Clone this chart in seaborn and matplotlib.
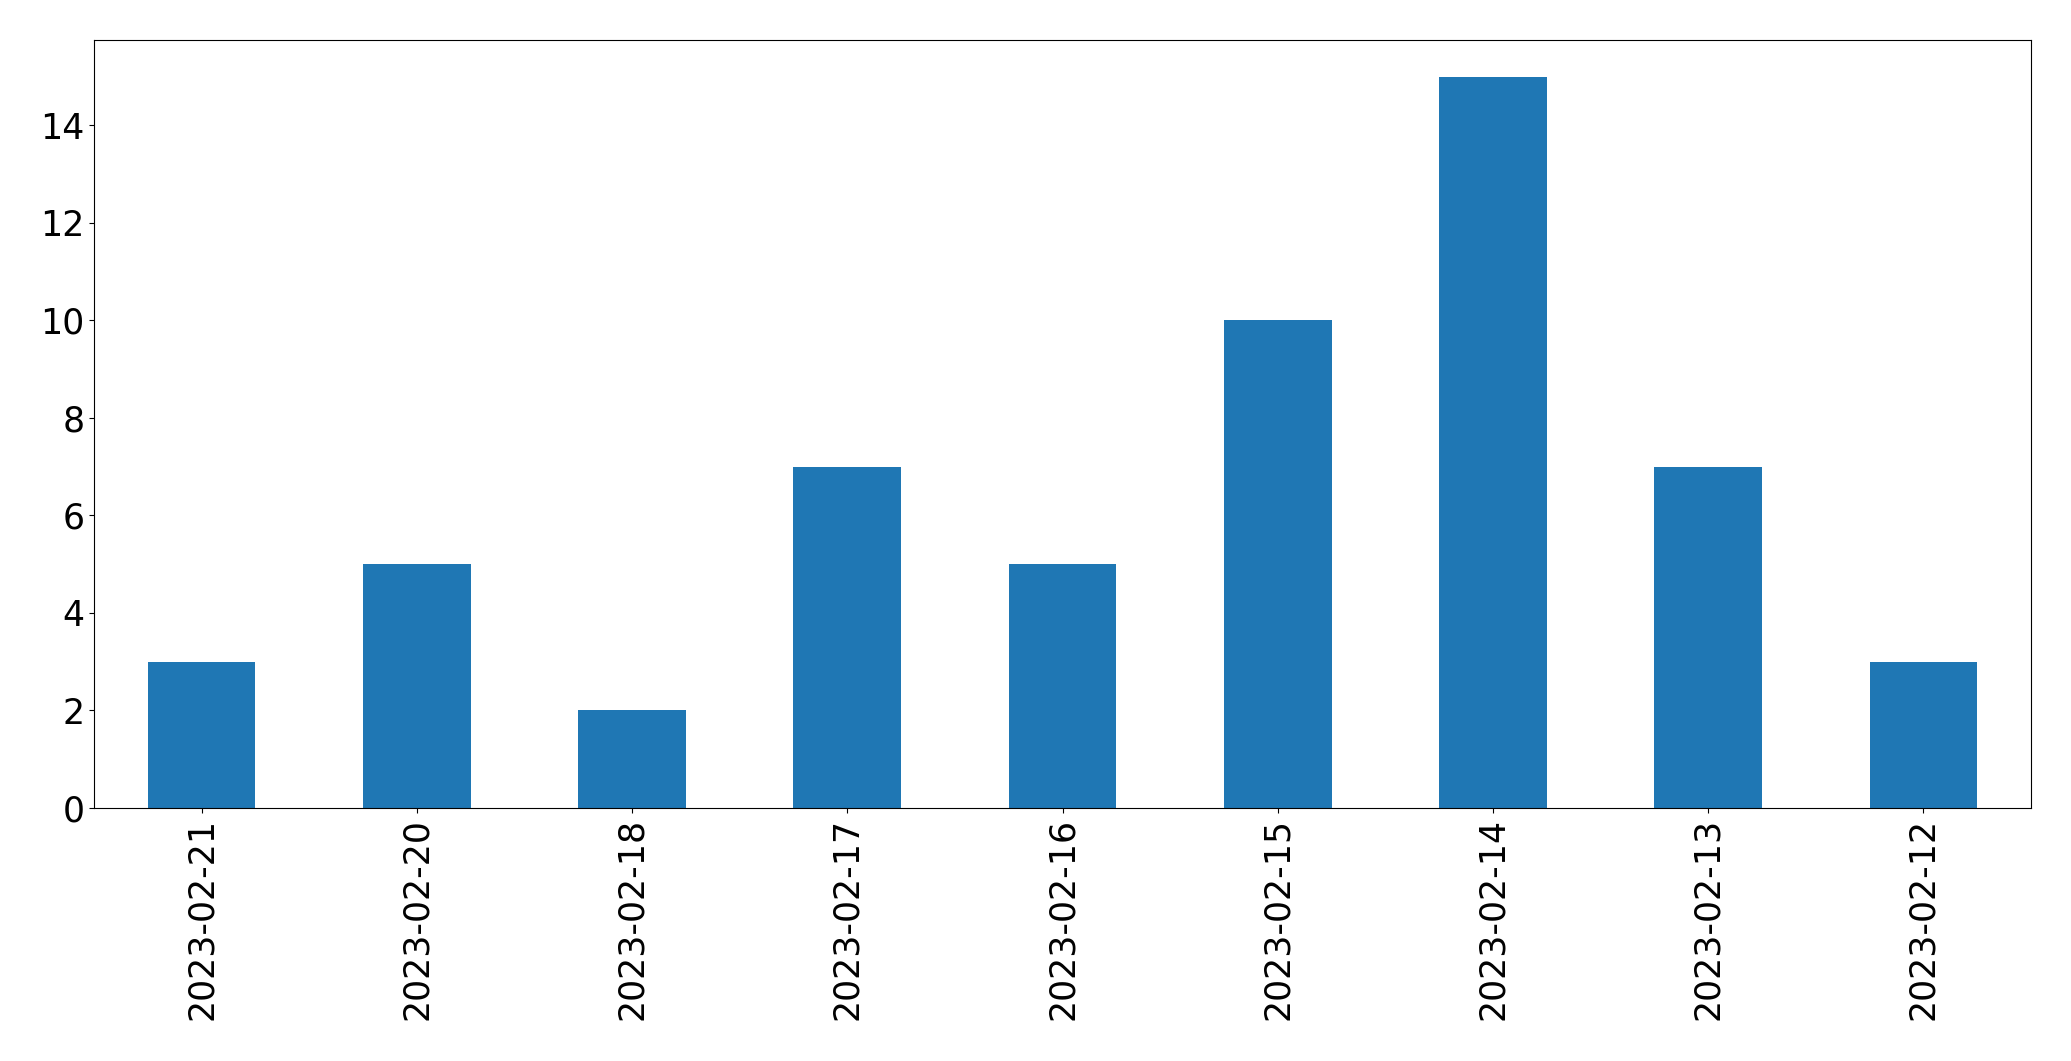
import matplotlib
matplotlib.use("Agg")
import matplotlib.pyplot as plt
import seaborn as sns
import pandas as pd

# dates and counts
dates = ["2023-02-21", "2023-02-20", "2023-02-18", "2023-02-17", "2023-02-16",
         "2023-02-15", "2023-02-14", "2023-02-13", "2023-02-12"]
counts = [3, 5, 2, 7, 5, 10, 15, 7, 3]

df = pd.DataFrame({"date": dates, "count": counts})

fig, ax = plt.subplots(figsize=(20.71, 10.61), dpi=100)
sns.barplot(data=df, x="date", y="count", color="#1f77b4", saturation=1,
            width=0.5, ax=ax)

ax.set_xlim(-0.5, len(dates) - 0.5)
ax.set_xlabel("")
ax.set_ylabel("")
ax.tick_params(axis="both", labelsize=25)
plt.xticks(rotation=90)

plt.subplots_adjust(left=0.0454, right=0.9807, top=0.9623, bottom=0.2385)
plt.savefig("out.png", dpi=100)
